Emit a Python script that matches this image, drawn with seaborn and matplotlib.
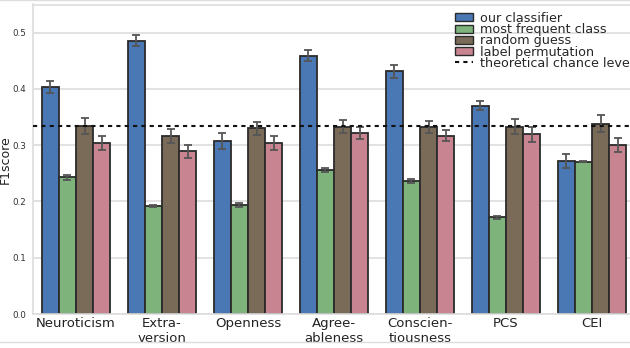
import matplotlib
matplotlib.use("Agg")
import matplotlib.pyplot as plt
from matplotlib.lines import Line2D
from matplotlib.patches import Patch
import seaborn as sns
import pandas as pd
import numpy as np

categories = ["Neuroticism", "Extra-\nversion", "Openness", "Agree-\nableness",
              "Conscien-\ntiousness", "PCS", "CEI"]
methods = ["our classifier", "most frequent class", "random guess", "label permutation"]

our_classifier = [0.403, 0.486, 0.308, 0.459, 0.431, 0.370, 0.272]
most_frequent = [0.243, 0.192, 0.194, 0.256, 0.236, 0.172, 0.271]
random_guess = [0.334, 0.316, 0.330, 0.333, 0.332, 0.333, 0.338]
label_perm = [0.304, 0.289, 0.304, 0.322, 0.317, 0.319, 0.300]

err_our = [0.011, 0.009, 0.014, 0.010, 0.012, 0.008, 0.012]
err_mf = [0.004, 0.001, 0.004, 0.004, 0.004, 0.003, 0.001]
err_rg = [0.014, 0.013, 0.012, 0.012, 0.011, 0.013, 0.015]
err_lp = [0.013, 0.011, 0.012, 0.011, 0.010, 0.013, 0.013]

chance_level = 1 / 3

colors = ["#4a78b5", "#7eb37c", "#7a6a58", "#c88491"]

values = [our_classifier, most_frequent, random_guess, label_perm]
errors = [err_our, err_mf, err_rg, err_lp]

rows = []
for m, vals in zip(methods, values):
    for c, v in zip(categories, vals):
        rows.append({"category": c, "method": m, "F1score": v})
df = pd.DataFrame(rows)

sns.set_theme(style="whitegrid")
plt.rcParams["font.family"] = ["DejaVu Sans"]

fig = plt.figure(figsize=(6.3, 3.48), dpi=100)
ax = fig.add_axes([33 / 630, 1 - 314 / 348, (635 - 33) / 630, (314 - 4.5) / 348])

sns.barplot(data=df, x="category", y="F1score", hue="method", order=categories,
            hue_order=methods, palette=colors, saturation=1, errorbar=None,
            edgecolor="#2b2b2b", linewidth=1.3, width=0.8, ax=ax, legend=False)

for cont, errs in zip(ax.containers, errors):
    for bar, e in zip(cont.patches, errs):
        xc = bar.get_x() + bar.get_width() / 2
        ax.errorbar(xc, bar.get_height(), yerr=e, fmt="none", ecolor="#555555",
                    elinewidth=1.3, capsize=3, capthick=1.3, zorder=5)

ax.axhline(chance_level, color="#111111", linestyle=(0, (2, 2)), linewidth=1.5, zorder=6)

ax.set_ylim(0, 0.55)
ax.set_xlim(-0.5, 6.5)
ax.set_yticks([0.0, 0.1, 0.2, 0.3, 0.4, 0.5])
ax.set_yticklabels(["0.0", "0.1", "0.2", "0.3", "0.4", "0.5"])
ax.tick_params(axis="y", labelsize=6.3, labelcolor="#333333", length=0, pad=5)
ax.tick_params(axis="x", labelsize=9.5, labelcolor="#222222", length=0, pad=2)
ax.set_xlabel("")
ax.set_ylabel("F1score", fontsize=9, color="#222222")
ax.yaxis.set_label_coords(-0.036, 0.5)
ax.grid(axis="x", visible=False)
ax.grid(axis="y", color="#dddddd", linewidth=1.2)
for s in ax.spines.values():
    s.set_color("#dddddd")
    s.set_linewidth(1.2)

handles = [Patch(facecolor=c, edgecolor="#2b2b2b", linewidth=1.0) for c in colors]
handles.append(Line2D([0], [0], color="#111111", linestyle=(0, (2, 2)), linewidth=1.5))
labels = methods + ["theoretical chance level"]
leg = ax.legend(handles, labels, loc="upper left", bbox_to_anchor=((446 - 33) / 602, 1.005),
                frameon=False, fontsize=9.2, handlelength=1.4, handleheight=0.6,
                labelspacing=-0.14, handletextpad=0.6, borderaxespad=0.3)

fig.add_artist(Line2D([0, 1], [0.999, 0.999], transform=fig.transFigure, color="#dddddd", linewidth=1))
fig.add_artist(Line2D([0, 1], [1 - 342 / 348, 1 - 342 / 348], transform=fig.transFigure,
                      color="#dddddd", linewidth=1))

fig.savefig("out.png", dpi=100)
